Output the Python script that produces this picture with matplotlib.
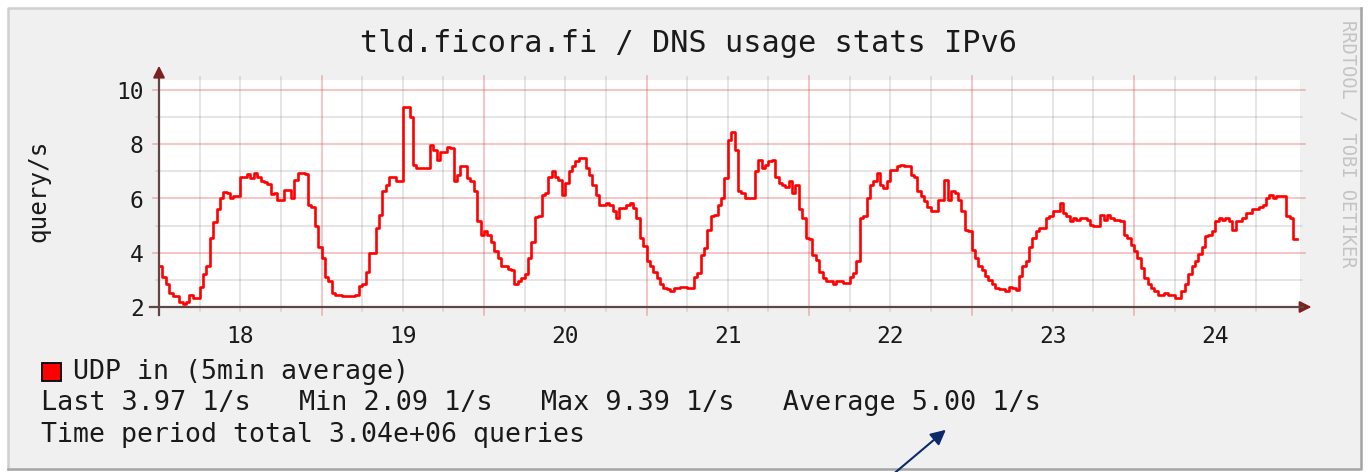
import numpy as np
import matplotlib.pyplot as plt
from matplotlib.patches import Rectangle

# half-hourly values (query/s), one list per day
days = [18, 19, 20, 21, 22, 23, 24]
day18 = [3.5, 3.1, 2.83, 2.5, 2.4, 2.4, 2.2, 2.1, 2.2, 2.45, 2.35, 2.35,
         2.75, 3.2, 3.5, 4.55, 5.15, 5.6, 6.0, 6.25, 6.2, 6.0, 6.1, 6.1,
         6.8, 6.8, 6.9, 6.75, 6.94, 6.8, 6.63, 6.6, 6.55, 6.15, 6.2, 5.95,
         5.96, 6.3, 6.3, 6.0, 6.7, 6.94, 6.94, 6.9, 5.77, 5.7, 5.0, 4.2]
day19 = [3.8, 3.1, 2.95, 2.5, 2.46, 2.46, 2.4, 2.4, 2.4, 2.4, 2.46, 2.77,
         2.83, 3.3, 4.0, 4.0, 4.9, 5.4, 6.26, 6.5, 6.8, 6.8, 6.63, 6.63,
         9.39, 9.39, 9.0, 7.24, 7.12, 7.12, 7.12, 7.12, 7.98, 7.8, 7.43, 7.7,
         7.7, 7.9, 7.85, 6.63, 6.88, 7.18, 7.2, 6.75, 6.63, 6.26, 5.16, 4.67]
day20 = [4.8, 4.67, 4.4, 4.06, 3.8, 3.5, 3.5, 3.4, 3.38, 2.83, 2.95, 3.08,
         3.2, 3.8, 4.4, 5.3, 5.34, 6.13, 6.2, 6.8, 7.0, 6.8, 6.7, 6.14,
         6.57, 7.0, 7.18, 7.37, 7.49, 7.49, 7.12, 6.88, 6.5, 6.14, 5.77, 5.77,
         5.83, 5.77, 5.53, 5.28, 5.65, 5.65, 5.77, 5.83, 5.65, 5.28, 4.54, 4.24]
day21 = [3.7, 3.5, 3.3, 3.08, 2.83, 2.7, 2.65, 2.6, 2.7, 2.7, 2.73, 2.73,
         2.7, 2.7, 3.1, 3.26, 3.93, 4.18, 4.85, 5.34, 5.4, 5.77, 6.0, 6.75,
         8.16, 8.47, 7.8, 6.26, 6.2, 6.0, 6.0, 6.0, 7.0, 7.43, 7.12, 7.24,
         7.37, 7.43, 6.8, 6.56, 6.5, 6.44, 6.63, 6.2, 6.5, 5.6, 5.28, 4.55]
day22 = [4.5, 3.9, 3.75, 3.3, 3.08, 2.95, 2.95, 2.83, 2.95, 2.95, 2.9, 2.9,
         3.1, 3.25, 3.7, 5.28, 5.34, 6.0, 6.5, 6.63, 6.94, 6.5, 6.38, 6.63,
         7.06, 7.06, 7.18, 7.24, 7.18, 7.18, 6.88, 6.8, 6.26, 6.08, 5.9, 5.7,
         5.53, 5.53, 5.96, 5.96, 6.7, 5.96, 6.26, 6.2, 5.96, 5.53, 4.85, 4.8]
day23 = [4.1, 3.8, 3.5, 3.38, 3.14, 3.0, 2.83, 2.7, 2.65, 2.65, 2.6, 2.75,
         2.7, 2.62, 3.15, 3.5, 3.7, 4.2, 4.55, 4.8, 4.9, 4.9, 5.28, 5.34,
         5.53, 5.53, 5.83, 5.47, 5.34, 5.16, 5.28, 5.2, 5.28, 5.28, 5.2, 5.04,
         4.97, 4.97, 5.4, 5.2, 5.4, 5.28, 5.2, 5.2, 5.16, 4.67, 4.55, 4.3]
day24 = [4.06, 3.8, 3.43, 3.08, 2.83, 2.7, 2.58, 2.46, 2.46, 2.5, 2.46, 2.46,
         2.34, 2.34, 2.58, 2.83, 3.2, 3.5, 3.7, 3.95, 4.2, 4.6, 4.67, 4.8,
         5.16, 5.28, 5.2, 5.28, 5.16, 4.85, 5.16, 5.16, 5.28, 5.47, 5.47, 5.6,
         5.6, 5.7, 5.77, 6.0, 6.14, 6.0, 6.08, 6.08, 6.08, 5.34, 5.28, 4.5]

title = 'tld.ficora.fi / DNS usage stats IPv6'
legend_label = 'UDP in (5min average)'
stats_line = 'Last 3.97 1/s   Min 2.09 1/s   Max 9.39 1/s   Average 5.00 1/s'
total_line = 'Time period total 3.04e+06 queries'

values = np.array(day18 + day19 + day20 + day21 + day22 + day23 + day24)
t = days[0] + np.arange(len(values) + 1) / 48.0
values = np.append(values, values[-1])

W, H = 1368, 472
plt.rcParams['font.family'] = 'DejaVu Sans Mono'

fig = plt.figure(figsize=(W / 100, H / 100), dpi=100, facecolor='white')

# rrdtool style frame
fig.patches.append(Rectangle((8 / W, 1 - 469 / H), 1353 / W, 461 / H,
                             transform=fig.transFigure, facecolor='#f0f0f0',
                             edgecolor='none', zorder=-5))
fig.add_artist(plt.Line2D([8 / W, 8 / W, 1361 / W], [1 - 469 / H, 1 - 8 / H, 1 - 8 / H],
                          transform=fig.transFigure, color='#cfcfcf', lw=1.8, zorder=-4))
fig.add_artist(plt.Line2D([8 / W, 1361 / W, 1361 / W], [1 - 469 / H, 1 - 469 / H, 1 - 8 / H],
                          transform=fig.transFigure, color='#a4a4a4', lw=1.8, zorder=-4))

ax = fig.add_axes([159 / W, 1 - 307 / H, 1141 / W, 227 / H])
ax.set_zorder(2)
ax.set_facecolor('white')
ax.set_xlim(18, 18 + 1141 / 162.5)
ax.set_ylim(2, 2 + 227 / 27.125)
for s in ax.spines.values():
    s.set_visible(False)

# grid, slightly overhanging the canvas like rrdtool does
minor_col = (0.56, 0.56, 0.56, 0.3)
major_col = (0.87, 0.31, 0.31, 0.42)
for y in [3, 5, 7, 9]:
    ax.axhline(y, xmin=-0.003, xmax=1.0015, color=minor_col, lw=1.1, clip_on=False)
for y in [4, 6, 8, 10]:
    ax.axhline(y, xmin=-0.0055, xmax=1.004, color=major_col, lw=1.1, clip_on=False)
for d in np.arange(18.25, 25.0, 0.25):
    if abs(d - round(d)) < 1e-6:
        ax.axvline(d, ymin=-0.035, ymax=1.018, color=major_col, lw=1.1, clip_on=False)
    else:
        ax.axvline(d, ymin=-0.018, ymax=1.013, color=minor_col, lw=1.1, clip_on=False)

ax.plot(t, values, color='#ff0000', lw=1.9, drawstyle='steps-post', zorder=3)

ax.set_yticks([2, 4, 6, 8, 10])
ax.set_yticklabels(['2', '4', '6', '8', '10'])
ax.set_xticks([d + 0.5 for d in days])
ax.set_xticklabels([str(d) for d in days])
ax.tick_params(axis='y', length=0, pad=11, labelsize=16.5, labelcolor='#1a1a1a')
ax.tick_params(axis='x', length=0, pad=13, labelsize=16.5, labelcolor='#1a1a1a')

# axes with arrow heads
axis_col = '#5e4646'
arrow_col = '#7f1f1f'
ax.plot([0, 0], [-0.035, 1.0], transform=ax.transAxes, color=axis_col, lw=1.6, clip_on=False, zorder=4)
ax.plot([-0.008, 1.003], [0, 0], transform=ax.transAxes, color=axis_col, lw=1.6, clip_on=False, zorder=4)
ax.annotate('', xy=(0, 1.075), xytext=(0, 0.99), xycoords='axes fraction',
            arrowprops=dict(arrowstyle='-|>,head_length=0.7,head_width=0.35',
                            color=arrow_col, lw=1.4), annotation_clip=False)
ax.annotate('', xy=(1.0125, 0), xytext=(1.0, 0), xycoords='axes fraction',
            arrowprops=dict(arrowstyle='-|>,head_length=0.7,head_width=0.35',
                            color=arrow_col, lw=1.4), annotation_clip=False)

fig.text(688 / W, 1 - 44 / H, title, ha='center', va='center', fontsize=21.8, color='#1a1a1a')
fig.text(38 / W, 1 - 191 / H, 'query/s', ha='center', va='center', rotation=90,
         fontsize=17.5, color='#1a1a1a')
fig.text(1347 / W, 1 - 144 / H, 'RRDTOOL / TOBI OETIKER', ha='center', va='center',
         rotation=-90, fontsize=13.5, color='#c4c4c4')

# legend
fig.patches.append(Rectangle((42 / W, 1 - 381 / H), 19 / W, 18 / H, transform=fig.transFigure,
                             facecolor='#ff0000', edgecolor='black', lw=1.3))
fig.text(73 / W, 1 - 372 / H, legend_label, ha='left', va='center', fontsize=19.2, color='#1a1a1a')
fig.text(41 / W, 1 - 403 / H, stats_line, ha='left', va='center', fontsize=19.4, color='#1a1a1a')
fig.text(41 / W, 1 - 435 / H, total_line, ha='left', va='center', fontsize=19.1, color='#1a1a1a')

# pointer to the average
ax.annotate('', xy=(948 / W, 1 - 428 / H), xytext=(884 / W, 1 - 482 / H),
            xycoords='figure fraction', textcoords='figure fraction',
            arrowprops=dict(arrowstyle='-|>,head_length=0.9,head_width=0.45',
                            color='#0b2a6b', lw=1.5), annotation_clip=False)

fig.savefig('out.png', dpi=100, facecolor='white')
